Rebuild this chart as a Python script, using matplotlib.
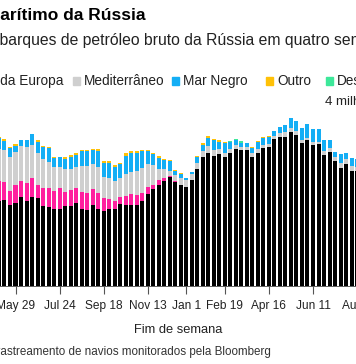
"""Russia seaborne crude shipments by destination, four-week average (cropped view)."""

import matplotlib
matplotlib.use("Agg")
import matplotlib.pyplot as plt
import numpy as np
import pandas as pd

W, H = 356, 364

weeks = pd.date_range("2022-05-08", periods=66, freq="7D")

asia = [1.94, 1.96, 1.85, 1.90, 2.03, 1.94, 2.03, 2.02, 1.84, 1.81,
        1.75, 1.75, 1.84, 1.82, 1.89, 1.77, 1.73, 1.85, 1.77, 1.72,
        1.75, 1.75, 1.88, 1.86, 1.86, 1.86, 1.94, 2.11, 2.22, 2.32,
        2.40, 2.49, 2.38, 2.31, 2.27, 2.42, 2.67, 2.95, 3.04, 2.97,
        3.02, 2.94, 3.05, 3.14, 3.12, 3.12, 2.96, 3.04, 3.15, 3.17,
        3.36, 3.41, 3.41, 3.53, 3.46, 3.28, 3.33, 3.23, 3.25, 3.00,
        3.07, 2.85, 2.70, 2.80, 2.64, 2.62]
north_europe = [0.46, 0.42, 0.32, 0.41, 0.37, 0.41, 0.43, 0.29, 0.41, 0.42,
                0.42, 0.48, 0.31, 0.37, 0.34, 0.39, 0.40, 0.36, 0.36, 0.29,
                0.23, 0.19, 0.16, 0.19, 0.25, 0.23, 0.19, 0.15, 0.10, 0.10,
                0.06, 0.02, 0.01] + [0.0] * 33
mediterranean = [0.73, 0.73, 0.77, 0.76, 0.79, 0.82, 0.76, 0.74, 0.65, 0.61,
                 0.54, 0.48, 0.52, 0.49, 0.48, 0.58, 0.61, 0.57, 0.59, 0.48,
                 0.50, 0.46, 0.42, 0.51, 0.50, 0.54, 0.56, 0.54, 0.44, 0.26,
                 0.21, 0.13, 0.14, 0.15, 0.15, 0.13, 0.15, 0.14, 0.15, 0.13,
                 0.12, 0.11, 0.08, 0.08, 0.06, 0.06, 0.09, 0.10, 0.08, 0.08,
                 0.08, 0.08, 0.10, 0.08, 0.08, 0.06, 0.06, 0.07, 0.05, 0.09,
                 0.09, 0.10, 0.11, 0.10, 0.10, 0.10]
black_sea = [0.25, 0.21, 0.21, 0.14, 0.15, 0.17, 0.25, 0.25, 0.28, 0.31,
             0.21, 0.23, 0.23, 0.27, 0.29, 0.34, 0.34, 0.32, 0.37, 0.32,
             0.33, 0.33, 0.32, 0.42, 0.44, 0.41, 0.40, 0.29, 0.25, 0.25,
             0.21, 0.21, 0.10, 0.09, 0.05, 0.05, 0.13, 0.14, 0.20, 0.24,
             0.16, 0.21, 0.17, 0.12, 0.10, 0.08, 0.11, 0.16, 0.16, 0.15,
             0.10, 0.15, 0.17, 0.22, 0.23, 0.28, 0.31, 0.28, 0.28, 0.25,
             0.17, 0.12, 0.21, 0.15, 0.18, 0.18]
other = [0.03, 0.03, 0.03, 0.03, 0.00, 0.00, 0.00, 0.03, 0.03, 0.03,
         0.03, 0.00, 0.04, 0.04, 0.04, 0.04, 0.02, 0.03, 0.04, 0.04,
         0.05, 0.04, 0.04, 0.06, 0.04, 0.04, 0.03, 0.03, 0.03, 0.04,
         0.03, 0.03, 0.03, 0.04, 0.00, 0.01, 0.02, 0.03, 0.05, 0.03,
         0.03, 0.03, 0.00, 0.00, 0.00, 0.00, 0.02, 0.02, 0.02, 0.02] + [0.0] * 16
unknown = [0.0] * 42 + [0.02, 0.03, 0.03, 0.02] + [0.0] * 20

series = [
    ("Ásia", asia, "#000000"),
    ("Norte da Europa", north_europe, "#ff1f9e"),
    ("Mediterrâneo", mediterranean, "#cfcfcf"),
    ("Mar Negro", black_sea, "#14aef5"),
    ("Outro", other, "#ffc107"),
    ("Desconhecido", unknown, "#3de89a"),
]

tick_dates = pd.to_datetime(["2022-04-03", "2022-05-29", "2022-07-24", "2022-09-18",
                             "2022-11-13", "2023-01-01", "2023-02-19", "2023-04-16",
                             "2023-06-11", "2023-08-06"])

plt.rcParams["font.family"] = ["Liberation Sans", "DejaVu Sans"]

fig = plt.figure(figsize=(W / 100, H / 100), dpi=100)
renderer = fig.canvas.get_renderer()


def fx(px):
    return px / W


def fy(py):
    return 1 - py / H


def width_px(s, **kw):
    t = fig.text(0, 0, s, **kw)
    w = t.get_window_extent(renderer).width
    t.remove()
    return w


# the chart is a crop of a wider graphic: the axes runs past both figure edges
pad = 40
px_per_day = (313 - 15.5) / 378
ref = pd.Timestamp("2022-05-29")
left = ref - pd.Timedelta(days=(15.5 + pad) / px_per_day)
right = ref + pd.Timedelta(days=(W + pad - 15.5) / px_per_day)

ax = fig.add_axes([-pad / W, 78 / H, (W + 2 * pad) / W, (253 - 78) / H])
bottom = np.zeros(len(weeks))
for name, vals, color in series:
    vals = np.array(vals)
    ax.bar(weeks, vals, bottom=bottom, width=5.1, color=color, linewidth=0)
    bottom += vals

ax.set_xticks(tick_dates)
ax.set_xticklabels([f"{d:%b} {d.day}" for d in tick_dates])
ax.set_xlim(left, right)
ax.set_ylim(0, 4)
ax.set_yticks([])
for s in ["left", "right", "top"]:
    ax.spines[s].set_visible(False)
ax.spines["bottom"].set_color("#444444")
ax.spines["bottom"].set_linewidth(0.6)
ax.tick_params(axis="x", length=6, width=0.8, color="#555555",
               labelsize=8.6, labelcolor="#222222", pad=4)
ax.set_xlabel("Fim de semana", fontsize=9.3, color="#222222", labelpad=9)

fig.text(fx(325), fy(102), "4 milhões", fontsize=9.5, color="#222222",
         va="center", ha="left")

# title, subtitle and source are cut at the left edge of the crop
title_kw = dict(fontsize=12.5, fontweight="bold", color="#000000", va="center")
fig.text(fx(-width_px("Comércio m", **title_kw)), fy(15),
         "Comércio marítimo da Rússia", **title_kw)

sub_kw = dict(fontsize=11.3, color="#222222", va="center")
fig.text(fx(-width_px("Em", **sub_kw)), fy(40),
         "Embarques de petróleo bruto da Rússia em quatro semanas", **sub_kw)

src_kw = dict(fontsize=8.4, color="#333333", va="center")
fig.text(fx(-width_px("Fonte: Dados de r", **src_kw)), fy(352),
         "Fonte: Dados de rastreamento de navios monitorados pela Bloomberg", **src_kw)

# legend row; the first entries sit left of the crop edge
leg_kw = dict(fontsize=9.8, color="#222222", va="center")
sq, gap_in, gap_out = 7, 4, 10
norte_sq = -width_px("Norte ", **leg_kw) - gap_in - sq
asia_sq = norte_sq - gap_out - width_px("Ásia", **leg_kw) - gap_in - sq
legend_x = [asia_sq, norte_sq, 73, 172, 266, 326]
for (name, _, color), x0 in zip(series, legend_x):
    fig.patches.append(plt.Rectangle((fx(x0), fy(81) - 3.5 / H), sq / W, sq / H,
                                     transform=fig.transFigure, color=color))
    fig.text(fx(x0 + sq + gap_in), fy(81), name, **leg_kw)

fig.savefig("out.png", dpi=100)
